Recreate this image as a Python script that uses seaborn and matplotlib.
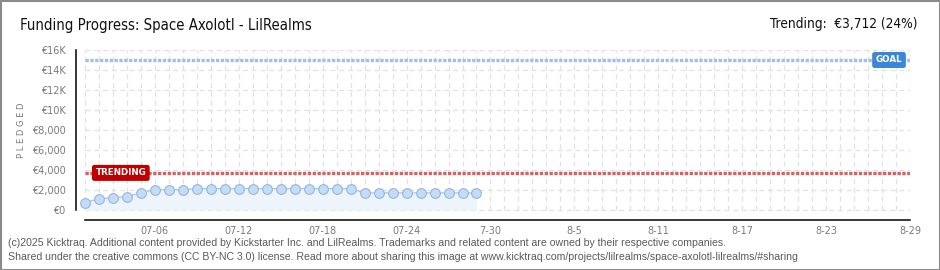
import matplotlib
matplotlib.use("Agg")
import matplotlib.pyplot as plt
import matplotlib.dates as mdates
from matplotlib import font_manager
from matplotlib.font_manager import FontProperties
from matplotlib.patches import Rectangle
from matplotlib.ticker import FixedLocator
import seaborn as sns
import pandas as pd

# ---------------- data ----------------
dates = ["2025-07-01", "2025-07-02", "2025-07-03", "2025-07-04", "2025-07-05",
         "2025-07-06", "2025-07-07", "2025-07-08", "2025-07-09", "2025-07-10",
         "2025-07-11", "2025-07-12", "2025-07-13", "2025-07-14", "2025-07-15",
         "2025-07-16", "2025-07-17", "2025-07-18", "2025-07-19", "2025-07-20",
         "2025-07-21", "2025-07-22", "2025-07-23", "2025-07-24", "2025-07-25",
         "2025-07-26", "2025-07-27", "2025-07-28", "2025-07-29"]
pledged = [730, 1130, 1230, 1330, 1730,
           2030, 2030, 2030, 2140, 2140,
           2140, 2140, 2140, 2140, 2140,
           2140, 2140, 2140, 2140, 2140,
           1710, 1710, 1710, 1710, 1710,
           1710, 1710, 1710, 1710]
goal = 15000
trending = 3712
x_start = "2025-07-01"
x_end = "2025-08-29"
xtick_dates = ["2025-07-06", "2025-07-12", "2025-07-18", "2025-07-24", "2025-07-30",
               "2025-08-05", "2025-08-11", "2025-08-17", "2025-08-23", "2025-08-29"]
xtick_labels = ["07-06", "07-12", "07-18", "07-24", "7-30", "8-5", "8-11", "8-17", "8-23", "8-29"]
ytick_values = [0, 2000, 4000, 6000, 8000, 10000, 12000, 14000, 16000]
ytick_labels = ["€0", "€2,000", "€4,000", "€6,000", "€8,000", "€10K", "€12K", "€14K", "€16K"]
yminor_values = [1000, 3000, 5000, 7000, 9000, 11000, 13000, 15000]
title_text = "Funding Progress: Space Axolotl - LilRealms"
trend_text = "Trending:  €3,712 (24%)"
footer1 = ("(c)2025 Kicktraq. Additional content provided by Kickstarter Inc. and LilRealms. "
           "Trademarks and related content are owned by their respective companies.")
footer2 = ("Shared under the creative commons (CC BY-NC 3.0) license. Read more about sharing this "
           "image at www.kicktraq.com/projects/lilrealms/space-axolotl-lilrealms/#sharing")

# ---------------- style ----------------
sns.set_style("white")
plt.rcParams['font.family'] = ['DejaVu Sans']


def pick_narrow():
    fl = font_manager.fontManager.ttflist
    for f in fl:
        if f.name == "Liberation Sans Narrow" and f.style == "normal" and f.weight in (400, "normal", "regular"):
            return FontProperties(fname=f.fname)
    for f in fl:
        if f.name == "DejaVu Sans" and str(f.stretch) in ("condensed", "semi-condensed") \
                and f.style == "normal" and f.weight in (400, "normal", "regular"):
            return FontProperties(fname=f.fname)
    for f in fl:
        if ("Condensed" in f.name or "Narrow" in f.name) and f.style == "normal":
            return FontProperties(fname=f.fname)
    return FontProperties(family="Liberation Sans")


narrow_fp = pick_narrow()

df = pd.DataFrame({"date": pd.to_datetime(dates), "pledged": pledged})
df["x"] = mdates.date2num(df["date"])
xs = mdates.date2num(pd.Timestamp(x_start))
xe = mdates.date2num(pd.Timestamp(x_end))

fig = plt.figure(figsize=(9.4, 2.7), dpi=100)
fig.patch.set_facecolor("white")
ax = fig.add_axes([76 / 940, 50 / 270, 834 / 940, 170 / 270])
ax.set_facecolor("white")

ax.set_xlim(xs - 0.64, xe)
ax.set_ylim(-1000, 16000)

# grid (dashed, light)
for d in range(int(xs), int(xe) + 1):
    ax.plot([d, d], [0, 16000], color="#e2e2e2", lw=0.9, ls=(0, (4, 3)), zorder=0)
for v in ytick_values:
    ax.plot([xs, xe], [v, v], color="#e2e2e2", lw=0.9, ls=(0, (4, 3)), zorder=0)

# area + line + markers
ax.fill_between(df["x"], 0, df["pledged"], color="#edf4fc", zorder=1, lw=0)
sns.lineplot(data=df, x="x", y="pledged", ax=ax, color="#a9c9ef", lw=1.0,
             marker="o", markersize=7, markerfacecolor="#c5dcf6",
             markeredgecolor="#94b6e0", markeredgewidth=0.8, zorder=3)

# goal + trending lines
ax.plot([xs, xe], [goal, goal], color="#a3c0e4", lw=2.4, ls=(0, (1, 0.45)), zorder=2,
        solid_capstyle="butt", dash_capstyle="butt")
ax.plot([xs, xe], [trending, trending], color="#d36464", lw=2.4, ls=(0, (1, 0.45)), zorder=2,
        solid_capstyle="butt", dash_capstyle="butt")

ax.text(xs + 0.75, trending, "TRENDING", color="white", fontsize=6.3, fontweight="bold",
        va="center", ha="left", zorder=5,
        bbox=dict(boxstyle="round,pad=0.32,rounding_size=0.2", fc="#c00000", ec="#c00000"))
ax.text(xe - 0.55, goal, "GOAL", color="white", fontsize=6.3, fontweight="bold",
        va="center", ha="right", zorder=5,
        bbox=dict(boxstyle="round,pad=0.32,rounding_size=0.2", fc="#3b87d7", ec="#3b87d7"))

# spines
for s in ["top", "right"]:
    ax.spines[s].set_visible(False)
ax.spines["left"].set_color("black")
ax.spines["bottom"].set_color("black")
ax.spines["left"].set_linewidth(1.1)
ax.spines["bottom"].set_linewidth(1.1)
ax.spines["left"].set_bounds(0, 16000)
ax.spines["bottom"].set_bounds(xs, xe)

# ticks
ax.xaxis.set_major_locator(FixedLocator(mdates.date2num(pd.to_datetime(xtick_dates))))
ax.set_xticklabels(xtick_labels)
ax.xaxis.set_minor_locator(mdates.DayLocator())
ax.tick_params(axis="x", which="both", direction="inout", length=5, width=1, color="black",
               labelsize=7, labelcolor="#7a7a7a", pad=1.5)
ax.yaxis.set_major_locator(FixedLocator(ytick_values))
ax.set_yticklabels(ytick_labels)
ax.yaxis.set_minor_locator(FixedLocator(yminor_values))
ax.tick_params(axis="y", which="major", direction="out", length=3, width=1, color="black",
               labelsize=7, labelcolor="#7a7a7a", pad=4.5)
ax.tick_params(axis="y", which="minor", direction="out", length=2.2, width=1, color="#e00000")
ax.set_xlabel("")
ax.set_ylabel("")

fig.text(21 / 940, 1 - 130 / 270, "P L E D G E D", rotation=90, ha="center", va="center",
         fontsize=6.0, color="#7a7a7a")

# header / footer texts
t_title = fig.text(20 / 940, 1 - 30 / 270, title_text, ha="left", va="baseline",
                   color="#111111", fontproperties=narrow_fp)
t_title.set_fontsize(12)
t_trend = fig.text(917 / 940, 1 - 28 / 270, trend_text, ha="right", va="baseline",
                   color="#111111", fontproperties=narrow_fp)
t_trend.set_fontsize(12)
t_f1 = fig.text(8 / 940, 1 - 246.5 / 270, footer1, ha="left", va="baseline",
                fontsize=6.5, color="#5a5a5a", family="Liberation Sans")
t_f2 = fig.text(8 / 940, 1 - 259.5 / 270, footer2, ha="left", va="baseline",
                fontsize=6.5, color="#5a5a5a", family="Liberation Sans")

fig.canvas.draw()
r = fig.canvas.get_renderer()
for t, target in [(t_title, 291), (t_trend, 148)]:
    w = t.get_window_extent(r).width
    t.set_fontsize(t.get_fontsize() * target / w)
w1 = t_f1.get_window_extent(r).width
fs_footer = t_f1.get_fontsize() * 719 / w1
t_f1.set_fontsize(fs_footer)
t_f2.set_fontsize(fs_footer)

fig.patches.append(Rectangle((0, 0), 1, 1, transform=fig.transFigure, fill=False,
                             ec="#8a8a8a", lw=2.2, zorder=10))

fig.savefig("out.png", dpi=100, facecolor="white")
